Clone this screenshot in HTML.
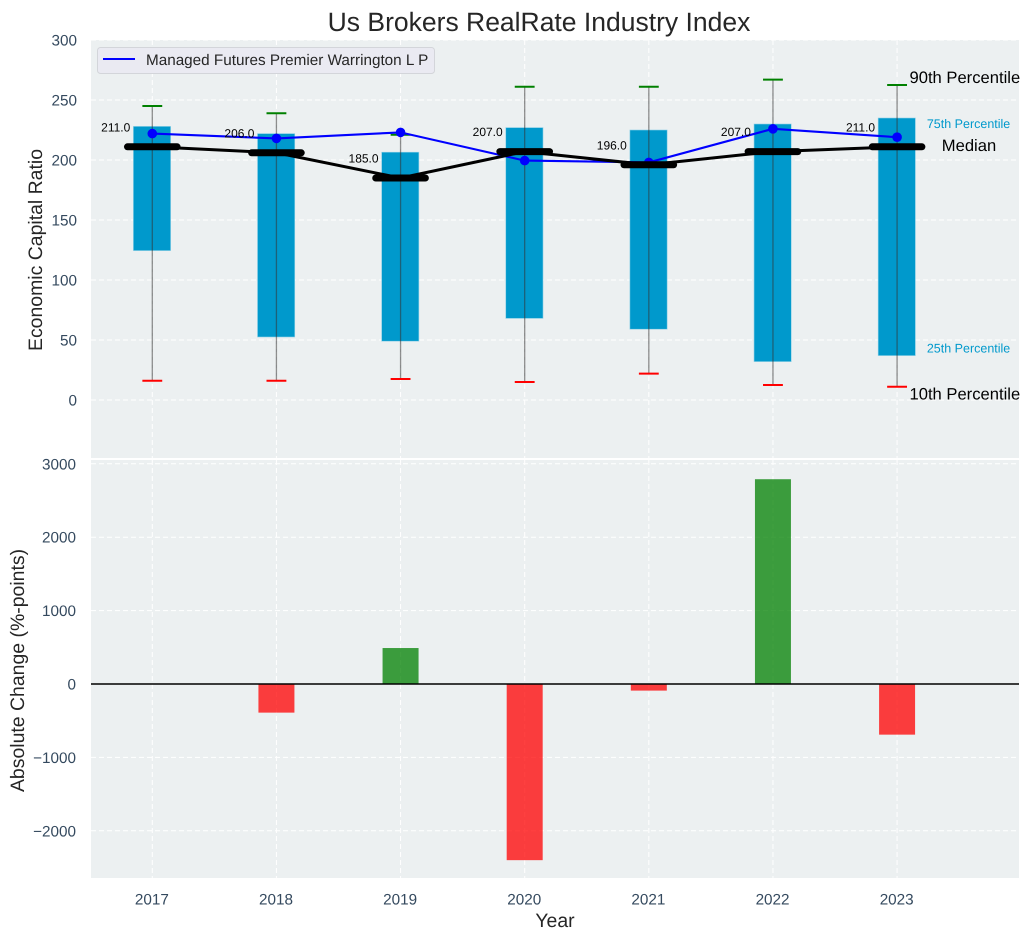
<!DOCTYPE html>
<html>
<head>
<meta charset="utf-8">
<title>Us Brokers RealRate Industry Index</title>
<style>
html,body{margin:0;padding:0;background:#fff;}
svg{display:block;font-family:"Liberation Sans",Arial,sans-serif;text-rendering:geometricPrecision;}
</style>
</head>
<body>
<svg id="chart" xmlns="http://www.w3.org/2000/svg" width="1030" height="940" viewBox="0 0 1030 940">
  <rect x="0" y="0" width="1030" height="940" fill="#ffffff"/>
  <rect x="91" y="40" width="928" height="418" fill="#ecf0f1"/>
  <rect x="91" y="460" width="928" height="418" fill="#ecf0f1"/>
  <g id="grid"></g>
  <g id="top"></g>
  <g id="bottom"></g>
  <g id="ticks"></g>
  <text x="539" y="31" text-anchor="middle" font-size="26.5" fill="#262626">Us Brokers RealRate Industry Index</text>
  <text transform="translate(42,250) rotate(-90)" text-anchor="middle" font-size="19.44" fill="#262626">Economic Capital Ratio</text>
  <text transform="translate(24,670.5) rotate(-90)" text-anchor="middle" font-size="19.44" fill="#262626">Absolute Change (%-points)</text>
  <text x="555" y="927" text-anchor="middle" font-size="19.44" fill="#262626">Year</text>
  <g>
    <rect x="97.5" y="47.5" width="337" height="26" rx="3" fill="#eaeaf2" stroke="#d3d5da" stroke-width="1"/>
    <line x1="103" y1="59" x2="135" y2="59" stroke="#0000ff" stroke-width="2"/>
    <text x="146" y="65" font-size="15.28" fill="#262626">Managed Futures Premier Warrington L P</text>
  </g>
</svg>
<script>
var years = [2017, 2018, 2019, 2020, 2021, 2022, 2023];
var p90 = [245, 239, 221, 261, 261, 267, 262.5];
var p75 = [228, 222, 206.5, 227, 225, 230, 235];
var medians = [211, 206, 185, 207, 196, 207, 211];
var p25 = [124.5, 52.5, 49, 68, 59, 32, 37];
var p10 = [16, 16, 17.5, 15, 22, 12.5, 11];
var company = [222, 218, 223, 199.5, 198, 226, 219];
var changes = [null, -390, 490, -2400, -90, 2790, -690];
var topTicks = [0, 50, 100, 150, 200, 250, 300];
var bottomTicks = [-2000, -1000, 0, 1000, 2000, 3000];

var NS = 'http://www.w3.org/2000/svg';
function xs(v) { return 152.3 + (v - 2017) * 124.13; }
function yTop(v) { return 400 - v * 1.2; }
function yBot(v) { return 684 - v * 0.0734; }
function mk(parent, tag, attrs, txt) {
  var n = document.createElementNS(NS, tag);
  for (var k in attrs) { n.setAttribute(k, attrs[k]); }
  if (txt !== undefined) { n.textContent = txt; }
  parent.appendChild(n);
  return n;
}
function fmtTick(v) { return v < 0 ? '\u2212' + Math.abs(v) : String(v); }

var grid = document.getElementById('grid');
var topG = document.getElementById('top');
var botG = document.getElementById('bottom');
var ticks = document.getElementById('ticks');
var el, i;
var gridStyle = { stroke: '#ffffff', 'stroke-width': 1, 'stroke-dasharray': '5 3', fill: 'none' };
function gridAttrs(x1, y1, x2, y2) {
  var a = { x1: x1, y1: y1, x2: x2, y2: y2 };
  for (var k in gridStyle) { a[k] = gridStyle[k]; }
  return a;
}

topTicks.forEach(function (t) {
  var el = mk(grid, 'line', gridAttrs(91, yTop(t), 1019, yTop(t)));
  
  
  el = mk(ticks, 'text', { x: 77, y: yTop(t) + 5.5, 'text-anchor': 'end', 'font-size': 15.28, fill: '#34495e' }, fmtTick(t));
  
  
});
bottomTicks.forEach(function (t) {
  var el = mk(grid, 'line', gridAttrs(91, yBot(t), 1019, yBot(t)));
  
  
  el = mk(ticks, 'text', { x: 76, y: yBot(t) + 5.5, 'text-anchor': 'end', 'font-size': 15.28, fill: '#34495e' }, fmtTick(t));
  
  
});
years.forEach(function (y) {
  var el = mk(grid, 'line', gridAttrs(xs(y), 40, xs(y), 458));
  
  
  el = mk(grid, 'line', gridAttrs(xs(y), 460, xs(y), 878));
  
  
  el = mk(ticks, 'text', { x: xs(y) - 0.4, y: 904.5, 'text-anchor': 'middle', 'font-size': 15.28, fill: '#34495e' }, String(y));
  
  
});

var boxW = 0.3;
years.forEach(function (y, j) {
  var el = mk(topG, 'rect', {
    x: xs(y - boxW / 2) - 0.3, y: yTop(p75[j]),
    width: xs(y + boxW / 2) - xs(y - boxW / 2), height: yTop(p25[j]) - yTop(p75[j]),
    fill: '#0099cc', stroke: '#8fd0e6', 'stroke-width': 0.6
  });
  
  
  el = mk(topG, 'line', { x1: xs(y), y1: yTop(p10[j]), x2: xs(y), y2: yTop(p90[j]), stroke: '#333333', 'stroke-opacity': 0.55, 'stroke-width': 1.3 });
  
  
  el = mk(topG, 'line', { x1: xs(y - 0.08), y1: yTop(p90[j]), x2: xs(y + 0.08), y2: yTop(p90[j]), stroke: '#008000', 'stroke-width': 2 });
  
  
  el = mk(topG, 'line', { x1: xs(y - 0.08), y1: yTop(p10[j]), x2: xs(y + 0.08), y2: yTop(p10[j]), stroke: '#ff0000', 'stroke-width': 2 });
  
  
});

var companyPts = years.map(function (y, j) { return xs(y) + ',' + yTop(company[j]); }).join(' ');
el = mk(topG, 'polyline', { points: companyPts, fill: 'none', stroke: '#0000ff', 'stroke-width': 2.1 });


years.forEach(function (y, j) {
  var el = mk(topG, 'circle', { cx: xs(y), cy: yTop(company[j]), r: 4.8, fill: '#0000ff' });
  
  
});

var medianPts = years.map(function (y, j) { return xs(y) + ',' + yTop(medians[j]); }).join(' ');
el = mk(topG, 'polyline', { points: medianPts, fill: 'none', stroke: '#000000', 'stroke-width': 3 });


years.forEach(function (y, j) {
  var el = mk(topG, 'line', { x1: xs(y - 0.2), y1: yTop(medians[j]), x2: xs(y + 0.2), y2: yTop(medians[j]), stroke: '#000000', 'stroke-width': 7, 'stroke-linecap': 'round' });
  
  
  el = mk(topG, 'text', { x: xs(y) - 22, y: yTop(medians[j]) - 15.5, 'text-anchor': 'end', 'font-size': 12, fill: '#000000' }, medians[j].toFixed(1));
  
  
});

var last = years.length - 1;
var lastX = years[last];
el = mk(topG, 'text', { x: xs(lastX + 0.1), y: yTop(p90[last]) - 2, 'font-size': 16.6, fill: '#000000' }, '90th Percentile');


el = mk(topG, 'text', { x: xs(lastX + 0.24), y: yTop(p75[last]) + 10, 'font-size': 12.5, fill: '#0099cc' }, '75th Percentile');


el = mk(topG, 'text', { x: xs(lastX + 0.36), y: yTop(medians[last]) + 4, 'font-size': 16.6, fill: '#000000' }, 'Median');


el = mk(topG, 'text', { x: xs(lastX + 0.24), y: yTop(p25[last]) - 3, 'font-size': 12.5, fill: '#0099cc' }, '25th Percentile');


el = mk(topG, 'text', { x: xs(lastX + 0.1), y: yTop(p10[last]) + 12.5, 'font-size': 16.6, fill: '#000000' }, '10th Percentile');



var barW = 0.29;
years.forEach(function (y, j) {
  if (changes[j] === null) { return; }
  var v = changes[j];
  var top = Math.min(yBot(v), yBot(0));
  var el = mk(botG, 'rect', {
    x: xs(y - barW / 2), y: top,
    width: xs(y + barW / 2) - xs(y - barW / 2), height: Math.abs(yBot(v) - yBot(0)),
    fill: v < 0 ? '#ff0000' : '#008000', 'fill-opacity': 0.75
  });
  
  
});
el = mk(botG, 'line', { x1: 91, y1: yBot(0), x2: 1019, y2: yBot(0), stroke: '#000000', 'stroke-width': 1.4 });


</script>
</body>
</html>
